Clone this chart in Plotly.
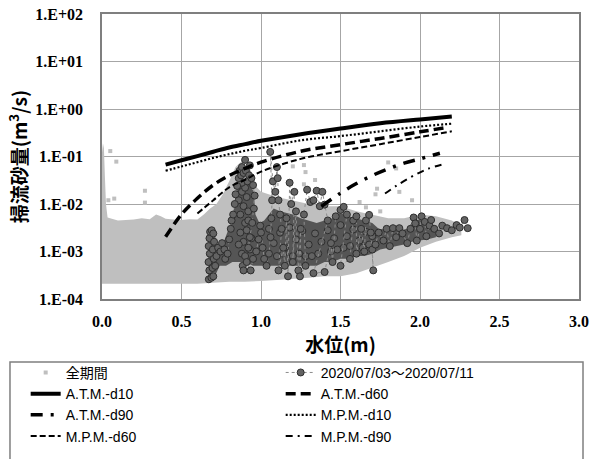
import plotly.graph_objects as go

# ---------------- data ----------------
ytick_vals = [1e-4, 1e-3, 1e-2, 1e-1, 1e0, 1e1, 1e2]
ytick_text = ["1.E-04", "1.E-03", "1.E-02", "1.E-01", "1.E+00", "1.E+01", "1.E+02"]
xtick_vals = [0.0, 0.5, 1.0, 1.5, 2.0, 2.5, 3.0]
xtick_text = ["0.0", "0.5", "1.0", "1.5", "2.0", "2.5", "3.0"]

# 全期間 : dense cloud outline (upper / lower envelope) + sparse outliers
all_top_x = [0.000, 0.000, 0.006, 0.012, 0.018, 0.025, 0.035, 0.10, 0.20, 0.25, 0.30, 0.34, 0.37, 0.40,
             0.45, 0.50, 0.55, 0.60, 0.64, 0.68, 0.72, 0.76, 0.80, 0.84, 0.88, 0.92, 0.96, 1.00, 1.10,
             1.20, 1.30, 1.40, 1.50, 1.60, 1.70, 1.80, 1.90, 2.00, 2.10, 2.20, 2.26]
all_top_y = [0.00021, 0.12, 0.19, 0.15, 0.04, 0.010, 0.0052, 0.0045, 0.0047, 0.0050, 0.0048, 0.0060,
             0.0055, 0.0049, 0.0047, 0.0046, 0.0048, 0.0047, 0.0060, 0.0080, 0.010, 0.016, 0.030, 0.060,
             0.080, 0.050, 0.025, 0.018, 0.014, 0.012, 0.010, 0.009, 0.009, 0.007, 0.006, 0.005, 0.005,
             0.006, 0.0055, 0.0045, 0.0035]
all_bot_x = [0.00, 0.10, 0.20, 0.30, 0.40, 0.50, 0.60, 0.70, 0.80, 0.90, 1.00, 1.10, 1.20, 1.30, 1.40,
             1.50, 1.60, 1.70, 1.80, 1.90, 2.00, 2.10, 2.20, 2.26]
all_bot_y = [0.00021, 0.00021, 0.00021, 0.00021, 0.00021, 0.00021, 0.00021, 0.00022, 0.00023, 0.00023,
             0.00024, 0.00025, 0.00026, 0.00028, 0.00030, 0.00030, 0.00035, 0.00045, 0.0006, 0.0008,
             0.0012, 0.0016, 0.0020, 0.0022]
all_pts_x = [0.052, 0.090, 0.270, 0.077, 0.270, 0.040, 1.20, 1.27, 1.28, 1.34, 1.27, 1.72, 1.73, 1.75,
             1.80, 1.85, 1.87, 1.95, 1.62, 1.66]
all_pts_y = [0.13, 0.078, 0.019, 0.013, 0.0107, 0.012, 0.062, 0.066, 0.047, 0.032, 0.026, 0.016, 0.021,
             0.007, 0.075, 0.056, 0.018, 0.012, 0.011, 0.0085]

# 2020/07/03～2020/07/11 : dense core outline + individual observations
ev_top_x = [0.668, 0.668, 0.705, 0.73, 0.76, 0.79, 0.81, 0.83, 0.845, 0.87, 0.90, 0.93, 0.955, 0.965,
            0.99, 1.02, 1.05, 1.08, 1.12, 1.16, 1.20, 1.25, 1.30, 1.35, 1.40, 1.45, 1.50, 1.55, 1.60,
            1.65, 1.70, 1.74, 1.80, 1.86, 1.92, 1.96, 2.00, 2.05, 2.10]
ev_top_y = [0.00030, 0.0024, 0.0024, 0.0013, 0.0014, 0.0025, 0.004, 0.008, 0.020, 0.028, 0.030, 0.025,
            0.018, 0.006, 0.004, 0.0045, 0.006, 0.008, 0.007, 0.0065, 0.006, 0.005, 0.0045, 0.004,
            0.0045, 0.005, 0.0065, 0.0055, 0.005, 0.0045, 0.004, 0.003, 0.0028, 0.0027, 0.003, 0.0045,
            0.0048, 0.004, 0.0035]
ev_bot_x = [0.71, 0.74, 0.78, 0.82, 0.86, 0.90, 0.95, 1.00, 1.05, 1.10, 1.15, 1.20, 1.25, 1.30, 1.35,
            1.40, 1.45, 1.50, 1.55, 1.60, 1.65, 1.70, 1.75, 1.80, 1.85, 1.90, 1.95, 2.00, 2.05, 2.10]
ev_bot_y = [0.0003, 0.0005, 0.0005, 0.0006, 0.0006, 0.0006, 0.0005, 0.0005, 0.0005, 0.0005, 0.0005,
            0.0005, 0.0005, 0.0005, 0.0005, 0.0006, 0.0006, 0.0007, 0.0007, 0.0008, 0.0008, 0.0009,
            0.0011, 0.0012, 0.0013, 0.0014, 0.0016, 0.0017, 0.0018, 0.0020]
ev_x = [0.672, 0.675, 0.670, 0.678, 0.671, 0.676, 0.680, 0.690, 0.700, 0.705, 0.697, 0.703, 0.695, 0.688,
        0.700, 0.712, 0.720, 0.730, 0.745, 0.755, 0.770, 0.775, 0.790, 0.800, 0.810, 0.815, 0.825, 0.835,
        0.840, 0.850, 0.860, 0.865, 0.875, 0.880, 0.890, 0.900, 0.905, 0.915, 0.925, 0.930, 0.940, 0.950,
        0.960, 0.955, 0.945, 0.930, 0.920, 0.900, 0.885, 0.890, 0.910, 0.935, 0.950, 0.970, 0.985, 0.995,
        1.000, 1.010, 1.020, 1.035, 1.050, 1.060, 1.065, 1.070, 1.058, 1.075, 1.090, 1.100, 1.105, 1.110,
        1.120, 1.130, 1.110, 1.140, 1.150, 1.160, 1.170, 1.180, 1.190, 1.210, 1.200, 1.220, 1.235, 1.250,
        1.245, 1.280, 1.270, 1.290, 1.310, 1.330, 1.350, 1.370, 1.386, 1.400, 1.420, 1.330, 1.400, 1.440,
        1.450, 1.470, 1.500, 1.520, 1.540, 1.500, 1.560, 1.580, 1.600, 1.600, 1.630, 1.650, 1.660, 1.680,
        1.690, 1.706, 1.700, 1.720, 1.740, 1.770, 1.790, 1.810, 1.830, 1.850, 1.870, 1.890, 1.920, 1.940,
        1.960, 1.970, 1.980, 2.000, 2.010, 2.030, 2.040, 2.060, 2.070, 2.090, 2.120, 2.140, 2.170, 2.200,
        2.230, 2.250, 2.280, 2.300]
ev_y = [0.00026, 0.0004, 0.0006, 0.0009, 0.0013, 0.0019, 0.0026, 0.0028, 0.0024, 0.0016, 0.0011, 0.0007,
        0.00045, 0.00028, 0.0003, 0.0005, 0.0008, 0.0012, 0.0010, 0.0015, 0.0011, 0.0007, 0.0009, 0.0018,
        0.0030, 0.0045, 0.006, 0.010, 0.016, 0.024, 0.035, 0.05, 0.04, 0.06, 0.045, 0.085, 0.05, 0.03,
        0.04, 0.065, 0.035, 0.025, 0.015, 0.008, 0.004, 0.002, 0.0012, 0.0008, 0.0005, 0.0004, 0.0006,
        0.0004, 0.0007, 0.0010, 0.0018, 0.0035, 0.0025, 0.0012, 0.0007, 0.0005, 0.0009, 0.002, 0.005,
        0.012, 0.125, 0.03, 0.018, 0.06, 0.035, 0.012, 0.006, 0.003, 0.0004, 0.0012, 0.0005, 0.005,
        0.0003, 0.028, 0.01, 0.018, 0.0006, 0.007, 0.0004, 0.003, 0.0003, 0.0005, 0.006, 0.020, 0.011,
        0.012, 0.019, 0.009, 0.018, 0.0097, 0.0045, 0.00035, 0.00037, 0.0015, 0.0006, 0.0055, 0.0075,
        0.0087, 0.006, 0.0005, 0.0007, 0.0045, 0.0055, 0.0009, 0.003, 0.001, 0.0045, 0.0059, 0.0025,
        0.0004, 0.0011, 0.0014, 0.0025, 0.0017, 0.0030, 0.0013, 0.0031, 0.0020, 0.0031, 0.0024, 0.0015,
        0.0030, 0.0052, 0.0039, 0.0017, 0.0030, 0.0055, 0.0042, 0.0021, 0.0035, 0.0046, 0.0030, 0.0024,
        0.0035, 0.0031, 0.0028, 0.0036, 0.0032, 0.0046, 0.0031]
# additional observations inside the dense part of the event
ev_in_x = [0.86, 0.87, 0.88, 0.89, 0.90, 0.91, 0.92, 0.87, 0.89, 0.91, 0.93, 0.88, 0.90, 0.92, 0.86, 0.88,
           0.94, 1.05, 1.08, 1.12, 1.15, 1.18, 1.22, 1.26, 1.30, 1.34, 1.38, 1.42, 1.46, 1.50, 1.54, 1.58,
           1.62, 1.66, 1.70, 1.10, 1.14, 1.20, 1.24, 1.28, 1.32, 1.36, 1.44, 1.48, 1.52, 1.56, 1.64, 1.68]
ev_in_y = [0.012, 0.006, 0.018, 0.009, 0.004, 0.014, 0.007, 0.0025, 0.0016, 0.0028, 0.0011, 0.0009,
           0.022, 0.0045, 0.0014, 0.028, 0.0019, 0.003, 0.0015, 0.0025, 0.0012, 0.0032, 0.0018, 0.0027,
           0.0014, 0.0024, 0.0016, 0.0028, 0.0019, 0.0036, 0.0021, 0.0029, 0.0017, 0.0026, 0.0021,
           0.0008, 0.0009, 0.0008, 0.0009, 0.0008, 0.0008, 0.0009, 0.0010, 0.0011, 0.0012, 0.0013,
           0.0012, 0.0014]

# theoretical bed-load curves
atm_d10_x = [0.40, 0.50, 0.60, 0.70, 0.80, 0.90, 1.00, 1.25, 1.50, 1.75, 2.00, 2.20]
atm_d10_y = [0.0676, 0.0832, 0.102, 0.126, 0.155, 0.182, 0.214, 0.295, 0.389, 0.501, 0.603, 0.692]
atm_d60_x = [0.40, 0.50, 0.60, 0.70, 0.80, 0.90, 1.00, 1.25, 1.50, 1.75, 2.00, 2.17]
atm_d60_y = [0.00204, 0.00603, 0.0132, 0.0251, 0.0398, 0.0562, 0.0759, 0.129, 0.178, 0.240, 0.331, 0.407]
atm_d90_x = [1.38, 1.50, 1.60, 1.70, 1.80, 1.90, 2.00, 2.125]
atm_d90_y = [0.00891, 0.0170, 0.0269, 0.0398, 0.0550, 0.0724, 0.0891, 0.117]
mpm_d10_x = [0.40, 0.50, 0.60, 0.70, 0.80, 0.90, 1.00, 1.25, 1.50, 1.75, 2.00, 2.20]
mpm_d10_y = [0.0501, 0.0617, 0.0759, 0.0933, 0.112, 0.132, 0.151, 0.219, 0.269, 0.339, 0.427, 0.490]
mpm_d60_x = [0.60, 0.70, 0.80, 0.90, 1.00, 1.25, 1.50, 1.75, 2.00, 2.20]
mpm_d60_y = [0.00631, 0.0120, 0.0224, 0.0324, 0.0479, 0.0891, 0.129, 0.182, 0.257, 0.339]
mpm_d90_x = [1.78, 1.85, 1.95, 2.05, 2.15]
mpm_d90_y = [0.0166, 0.0240, 0.0380, 0.0550, 0.0692]

# ---------------- figure ----------------
GREY = "#bfbfbf"
CIRCLE = dict(symbol="circle", size=7, color="#636363", line=dict(color="#2e2e2e", width=1))
fig = go.Figure()

fig.add_trace(go.Scatter(x=all_top_x + all_bot_x[::-1], y=all_top_y + all_bot_y[::-1],
                         fill="toself", fillcolor=GREY, mode="lines", line=dict(width=0, color=GREY),
                         showlegend=False, hoverinfo="skip"))
fig.add_trace(go.Scatter(x=all_pts_x, y=all_pts_y, mode="markers", name="全期間",
                         marker=dict(symbol="square", size=4, color=GREY)))
fig.add_trace(go.Scatter(x=ev_top_x + ev_bot_x[::-1], y=ev_top_y + ev_bot_y[::-1],
                         fill="toself", fillcolor="#555555", mode="lines", line=dict(width=0, color="#555555"),
                         showlegend=False, hoverinfo="skip"))
fig.add_trace(go.Scatter(x=ev_in_x, y=ev_in_y, mode="markers", marker=CIRCLE,
                         showlegend=False, hoverinfo="skip"))
fig.add_trace(go.Scatter(x=ev_x, y=ev_y, mode="lines+markers", name="2020/07/03～2020/07/11",
                         line=dict(color="#8c8c8c", width=1, dash="dot"), marker=CIRCLE))

curves = [
    ("A.T.M.-d10", atm_d10_x, atm_d10_y, 4.0, "solid"),
    ("A.T.M.-d60", atm_d60_x, atm_d60_y, 3.5, "10px,5px"),
    ("A.T.M.-d90", atm_d90_x, atm_d90_y, 3.5, "12px,8px,3px,8px"),
    ("M.P.M.-d10", mpm_d10_x, mpm_d10_y, 2.2, "2px,2px"),
    ("M.P.M.-d60", mpm_d60_x, mpm_d60_y, 2.0, "6px,3px"),
    ("M.P.M.-d90", mpm_d90_x, mpm_d90_y, 2.0, "7px,5px,2px,5px"),
]
for name, cx, cy, w, dash in curves:
    fig.add_trace(go.Scatter(x=cx, y=cy, mode="lines", name=name, line_shape="spline",
                             line=dict(color="black", width=w, dash=dash)))

SERIF_B = "Liberation Serif"
tick_font = dict(family=SERIF_B, size=16, color="black", weight=700)
title_font = dict(family="Noto Sans CJK JP", size=19, color="black", weight="bold")
axis_common = dict(showgrid=True, gridcolor="#a6a6a6", gridwidth=1, showline=True, linecolor="#7f7f7f",
                   linewidth=1.5, mirror=True, zeroline=False, tickfont=tick_font, automargin=False)

fig.update_layout(
    width=590, height=459,
    margin=dict(l=102, r=11, t=14, b=160, autoexpand=False),
    paper_bgcolor="white", plot_bgcolor="white",
    xaxis=dict(range=[0, 3], tickvals=xtick_vals, ticktext=xtick_text, ticklabelstandoff=7,
               title=dict(text="水位(m)", font=title_font, standoff=2), **axis_common),
    yaxis=dict(type="log", range=[-4, 2], tickvals=ytick_vals, ticktext=ytick_text, ticklabelstandoff=14,
               title=dict(text="掃流砂量(m<sup>3</sup>/s)", font=title_font, standoff=3), **axis_common),
    legend=dict(orientation="h", x=-0.16, xanchor="left", y=-0.203, yanchor="top",
                entrywidth=210, entrywidthmode="pixels", bgcolor="rgba(0,0,0,0)", borderwidth=0,
                font=dict(family="Liberation Sans, Noto Sans CJK JP", size=14, color="black"),
                traceorder="normal"),
    shapes=[dict(type="rect", xref="paper", yref="paper", x0=-0.1929, x1=1.0084, y0=-0.2211, y1=-0.62,
                 line=dict(color="#7f7f7f", width=1.5), fillcolor="rgba(0,0,0,0)", layer="below")],
    showlegend=True,
)

fig.write_html("out.html")
